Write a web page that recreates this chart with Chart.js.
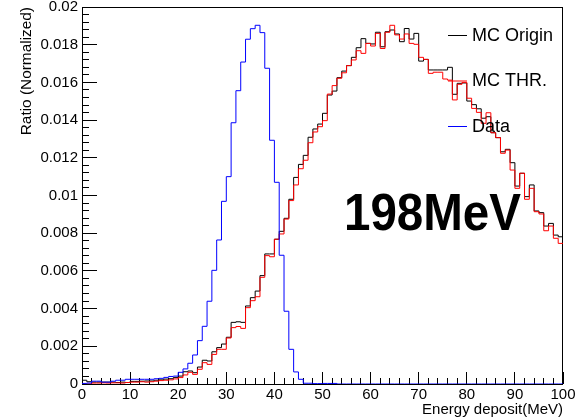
<!DOCTYPE html>
<html>
<head>
<meta charset="utf-8">
<script src="https://cdn.jsdelivr.net/npm/chart.js@4.4.1/dist/chart.umd.min.js"></script>
<style>
  html, body { margin: 0; padding: 0; background: #fff; }
  #wrap { width: 582px; height: 419px; }
</style>
</head>
<body>
<div id="wrap"><canvas id="histo" width="582" height="419"></canvas></div>
<script>
/* ==========================================================
   DATA (1 MeV bins, 0-100 MeV)
   ========================================================== */
const binEdges = [0, 1, 2, 3, 4, 5, 6, 7, 8, 9, 10, 11, 12, 13, 14, 15, 16, 17, 18, 19,
  20, 21, 22, 23, 24, 25, 26, 27, 28, 29, 30, 31, 32, 33, 34, 35, 36, 37, 38, 39,
  40, 41, 42, 43, 44, 45, 46, 47, 48, 49, 50, 51, 52, 53, 54, 55, 56, 57, 58, 59,
  60, 61, 62, 63, 64, 65, 66, 67, 68, 69, 70, 71, 72, 73, 74, 75, 76, 77, 78, 79,
  80, 81, 82, 83, 84, 85, 86, 87, 88, 89, 90, 91, 92, 93, 94, 95, 96, 97, 98, 99, 100];

const mcOrigin = [
  0.0002, 0.00012, 0.0001, 0.0001, 0.0001, 0.0001, 0.0001, 0.00008, 0.0001, 0.00008,
  0.00014, 0.00014, 0.00015, 0.00016, 0.00016, 0.0002, 0.00022, 0.00026, 0.00028, 0.00035,
  0.00042, 0.00065, 0.00069, 0.0006, 0.0009, 0.00126, 0.00122, 0.00171, 0.00193, 0.00212,
  0.00248, 0.00327, 0.0033, 0.00327, 0.00414, 0.00458, 0.00493, 0.00575, 0.0069, 0.0069,
  0.00768, 0.0081, 0.00879, 0.0098, 0.01096, 0.01165, 0.01213, 0.01309, 0.01353, 0.01379,
  0.01436, 0.01533, 0.01554, 0.01625, 0.0166, 0.01689, 0.01733, 0.01784, 0.01832, 0.01807,
  0.01804, 0.01866, 0.01789, 0.01869, 0.01878, 0.01857, 0.01816, 0.01886, 0.0183, 0.0186,
  0.01713, 0.01722, 0.01666, 0.01666, 0.01666, 0.01666, 0.0168, 0.01537, 0.01595, 0.01597,
  0.01501, 0.01482, 0.0146, 0.0141, 0.01418, 0.01333, 0.01307, 0.01232, 0.01245, 0.01174,
  0.0105, 0.01118, 0.00994, 0.01056, 0.00918, 0.00909, 0.00838, 0.00852, 0.0079, 0.00781
];

const mcThr = [
  0, 0, 0.00005, 0.00005, 0.00006, 0.00005, 0.00006, 0.00006, 0.00005, 0.00008,
  0.0001, 0.0001, 0.00012, 0.0001, 0.00012, 0.00015, 0.00018, 0.0002, 0.00022, 0.00027,
  0.00034, 0.00048, 0.00062, 0.00051, 0.00078, 0.00113, 0.00104, 0.00157, 0.00184, 0.00184,
  0.00244, 0.00299, 0.00305, 0.00295, 0.00405, 0.00442, 0.00463, 0.00566, 0.00681, 0.00675,
  0.00768, 0.00796, 0.00875, 0.00973, 0.01056, 0.01142, 0.01187, 0.0128, 0.01337, 0.01365,
  0.01397, 0.01538, 0.01583, 0.01622, 0.01651, 0.01689, 0.01719, 0.01768, 0.01754, 0.01807,
  0.01793, 0.0186, 0.0178, 0.01866, 0.01903, 0.01852, 0.0183, 0.01857, 0.01807, 0.01802,
  0.01733, 0.01722, 0.01648, 0.01654, 0.01654, 0.01618, 0.01612, 0.01507, 0.0159, 0.016,
  0.01516, 0.01462, 0.01441, 0.01383, 0.01439, 0.01333, 0.01307, 0.01224, 0.01241, 0.01135,
  0.01038, 0.01118, 0.0098, 0.01038, 0.00914, 0.00902, 0.00813, 0.00838, 0.00773, 0.00746
];

const dataHist = [
  0.00003, 0.00005, 0.00015, 0.00015, 0.0001, 0.0001, 0.00015, 0.0002, 0.0002, 0.00025,
  0.00025, 0.00025, 0.00025, 0.00025, 0.00025, 0.00028, 0.0003, 0.00035, 0.0004, 0.00042,
  0.00062, 0.0008, 0.0011, 0.00154, 0.0023, 0.00306, 0.00439, 0.00603, 0.00764, 0.00969,
  0.0110, 0.01386, 0.01556, 0.01708, 0.01829, 0.01885, 0.01903, 0.01864, 0.01675, 0.01293,
  0.0107, 0.00683, 0.00386, 0.00184, 0.00064, 0.00025, 0.00004, 0.00004, 0.00002, 0.00002,
  0.00003, 0.00003, 0.00003, 0, 0, 0, 0, 0, 0, 0,
  0, 0, 0, 0, 0, 0, 0, 0, 0, 0,
  0, 0, 0, 0, 0, 0, 0, 0, 0, 0,
  0, 0, 0, 0, 0, 0, 0, 0, 0, 0,
  0, 0, 0, 0, 0, 0, 0, 0, 0, 0
];

const xMajorTicks = [0, 10, 20, 30, 40, 50, 60, 70, 80, 90, 100];
const xTickLabels = ['0', '10', '20', '30', '40', '50', '60', '70', '80', '90', '100'];
const yMajorTicks = [0, 0.002, 0.004, 0.006, 0.008, 0.01, 0.012, 0.014, 0.016, 0.018, 0.02];
const yTickLabels = ['0', '0.002', '0.004', '0.006', '0.008', '0.01', '0.012', '0.014', '0.016', '0.018', '0.02'];
const xMinorStep = 2;
const yMinorStep = 0.0004;

/* ==========================================================
   HELPERS
   ========================================================== */
// histogram -> step points at bin low edges, plus closing point at the last upper edge
function toSteps(values) {
    const pts = values.map((v, i) => ({ x: binEdges[i], y: v }));
    pts.push({ x: binEdges[values.length], y: values[values.length - 1] });
    return pts;
}

function fixedTicks(list) {
    return scale => { scale.ticks = list.map(v => ({ value: v })); };
}

function minorTicks(min, max, step) {
    return scale => {
        const out = [];
        for (let k = 0; min + k * step <= max + step * 1e-6; k++) {
            out.push({ value: +(min + k * step).toFixed(6) });
        }
        scale.ticks = out;
    };
}

function fixSize(prop, size) {
    return scale => {
        scale[prop] = size;
        scale.paddingLeft = scale.paddingRight = scale.paddingTop = scale.paddingBottom = 0;
    };
}

const FONT = '"Liberation Sans", Arial, Helvetica, sans-serif';
Chart.defaults.font.family = FONT;
Chart.defaults.color = '#000';

// ROOT-like frame round the pad
const framePlugin = {
    id: 'frame',
    beforeDatasetsDraw(chart) {
        const { ctx, chartArea: a } = chart;
        ctx.save();
        ctx.strokeStyle = '#000';
        ctx.lineWidth = 1;
        ctx.strokeRect(a.left + 0.5, a.top + 0.5, a.right - a.left - 1, a.bottom - a.top);
        ctx.restore();
    }
};

// borderless legend inside the frame
const legendPlugin = {
    id: 'rootLegend',
    afterDatasetsDraw(chart) {
        const { ctx } = chart;
        const rowsY = [35, 80.5, 126];
        ctx.save();
        ctx.font = '18px ' + FONT;
        ctx.textBaseline = 'middle';
        chart.data.datasets.forEach((ds, i) => {
            const y = rowsY[i];
            ctx.strokeStyle = ds.borderColor;
            ctx.lineWidth = 1;
            ctx.beginPath();
            ctx.moveTo(448, y + 0.5);
            ctx.lineTo(467, y + 0.5);
            ctx.stroke();
            ctx.fillStyle = '#000';
            ctx.fillText(ds.label, 472, y + 1);
        });
        // beam energy label
        ctx.font = 'bold 52px ' + FONT;
        ctx.textBaseline = 'alphabetic';
        ctx.fillText('198MeV', 344, 230, 177);
        ctx.restore();
    }
};

const tickGrid = len => ({
    drawOnChartArea: false,
    drawTicks: true,
    tickLength: len,
    tickColor: '#000',
    tickWidth: 1
});

/* ==========================================================
   CHART
   ========================================================== */
new Chart(document.getElementById('histo'), {
    type: 'line',
    data: {
        datasets: [
            { label: 'MC Origin', data: toSteps(mcOrigin), borderColor: '#000000', order: 3 },
            { label: 'MC THR.', data: toSteps(mcThr), borderColor: '#ff0000', order: 2 },
            { label: 'Data', data: toSteps(dataHist), borderColor: '#0000ff', order: 1 }
        ]
    },
    options: {
        responsive: false,
        animation: false,
        devicePixelRatio: 1,
        layout: { padding: { top: 7, right: 19, left: 0, bottom: 0 } },
        elements: {
            line: { borderWidth: 1, stepped: 'before', tension: 0, fill: false },
            point: { radius: 0, hoverRadius: 0 }
        },
        plugins: { legend: { display: false }, tooltip: { enabled: false } },
        scales: {
            x: {
                type: 'linear', position: 'bottom', min: 0, max: 100, weight: 1,
                grid: tickGrid(-12),
                border: { display: false },
                ticks: {
                    autoSkip: false, maxRotation: 0, padding: 14,
                    font: { size: 15 },
                    callback: (v, i) => xTickLabels[i]
                },
                afterBuildTicks: fixedTicks(xMajorTicks),
                afterFit: fixSize('height', 35),
                title: {
                    display: true, text: 'Energy deposit(MeV)', align: 'end',
                    font: { size: 15 }, padding: { top: 0, bottom: 0 }
                }
            },
            xMinor: {
                type: 'linear', position: 'bottom', min: 0, max: 100, weight: 0,
                grid: tickGrid(-6),
                border: { display: false },
                ticks: { display: false },
                afterBuildTicks: minorTicks(0, 100, xMinorStep),
                afterFit: fixSize('height', 0)
            },
            y: {
                type: 'linear', position: 'left', min: 0, max: 0.02, weight: 1,
                grid: tickGrid(-15),
                border: { display: false },
                ticks: {
                    autoSkip: false, padding: 19,
                    font: { size: 15 },
                    callback: (v, i) => yTickLabels[i]
                },
                afterBuildTicks: fixedTicks(yMajorTicks),
                afterFit: fixSize('width', 82),
                title: {
                    display: true, text: 'Ratio (Normalized)', align: 'end',
                    font: { size: 15.4 }, padding: { top: 17.5, bottom: 0 }
                }
            },
            yMinor: {
                type: 'linear', position: 'left', min: 0, max: 0.02, weight: 0,
                grid: tickGrid(-7),
                border: { display: false },
                ticks: { display: false },
                afterBuildTicks: minorTicks(0, 0.02, yMinorStep),
                afterFit: fixSize('width', 0)
            }
        }
    },
    plugins: [framePlugin, legendPlugin]
});
</script>
</body>
</html>
